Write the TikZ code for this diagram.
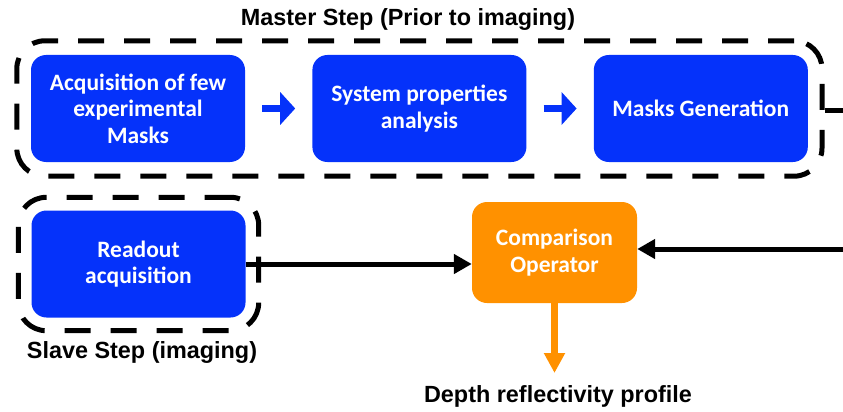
\documentclass[tikz,border=0pt]{standalone}
\usepackage{fontspec}
\setmainfont{Liberation Sans}
\newfontfamily\boxfont{Carlito}
\usepackage{xcolor}
\usetikzlibrary{arrows.meta,positioning,fit}

\definecolor{stepblue}{RGB}{5,50,250}
\definecolor{steporange}{RGB}{255,145,0}

\begin{document}
\begin{tikzpicture}[
    x=1pt, y=-1pt,
    box/.style={
        rectangle,
        fill=stepblue,
        rounded corners=15pt,
        align=center,
        text=white,
        font=\boxfont\bfseries\fontsize{23.5}{26.5}\selectfont,
        minimum width=214pt,
        minimum height=107pt,
        inner sep=0pt
    },
    opbox/.style={
        box,
        fill=steporange,
        minimum width=165pt,
        minimum height=101pt
    },
    stepframe/.style={
        draw,
        line width=5pt,
        dash pattern=on 26pt off 20pt,
        rounded corners=28pt
    },
    steplabel/.style={
        font=\bfseries\fontsize{23.4}{28}\selectfont,
        inner sep=0pt
    },
    bluearrow/.style={
        draw=stepblue,
        line width=7pt,
        -{Triangle[length=15pt,width=32pt]}
    },
    arrow/.style={
        line width=5pt,
        -{Triangle[length=18pt,width=19pt]}
    },
    outarrow/.style={
        draw=steporange,
        line width=7pt,
        -{Triangle[length=20pt,width=20pt]}
    }
]
\useasboundingbox (0,0) rectangle (843,412);

% Master step row
\node[box] (acq) at (138,108.5) {Acquisition of few\\experimental\\Masks};
\node[box, right=67pt of acq] (props) {System properties\\analysis};
\node[box, right=67pt of props] (gen) {Masks Generation};

\node[stepframe, inner sep=14pt, fit=(acq)(props)(gen)] (master) {};
\node[steplabel] (mastertitle) at (408,20) {Master Step (Prior to imaging)};

% Slave step
\node[box] (readout) at (138.5,264) {Readout\\acquisition};
\node[stepframe, inner sep=13pt, fit=(readout)] (slave) {};
\node[steplabel] (slavetitle) at (142,352) {Slave Step (imaging)};

% Comparison
\node[opbox] (comp) at (554.5,252.5) {Comparison\\Operator};
\node[steplabel] (profile) at (558,396) {Depth reflectivity profile};

\coordinate (masterout) at (843,110);
\coordinate (masterin) at (843,249);
\coordinate (profilein) at (554.5,373);

% Arrows
\draw[bluearrow] ([xshift=17pt]acq.east) -- ([xshift=-17pt]props.west);
\draw[bluearrow] ([xshift=17pt]props.east) -- ([xshift=-17pt]gen.west);
\draw[line width=5pt] (masterout -| master.east) -- (masterout);
\draw[arrow] (readout.east) -- (readout.east -| comp.west);
\draw[arrow] (masterin) -- (masterin -| comp.east);
\draw[outarrow] (comp.south) -- (profilein);

\end{tikzpicture}
\end{document}
